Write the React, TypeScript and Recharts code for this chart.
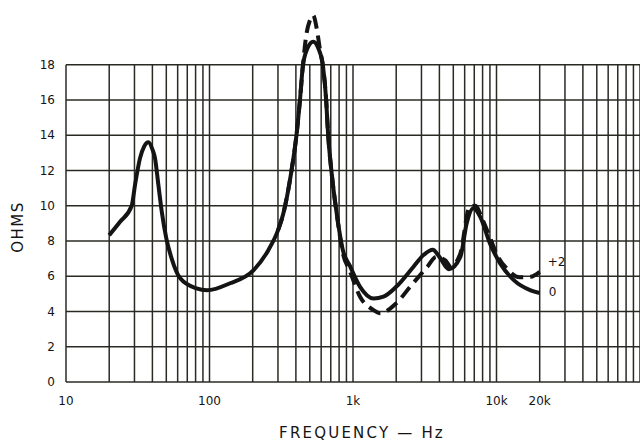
import React from "react";
import { LineChart, Line, XAxis, YAxis, ReferenceLine } from "recharts";

// Impedance curve, tone control at "0"
const solidFreq = [20, 23.8, 28.7, 30.3, 32.8, 35, 37.5, 40, 41.7, 44, 46.5, 50, 54.5, 62.5, 81, 96, 139, 203, 257, 300, 327, 370, 405, 427, 447, 480, 528, 575, 618, 650, 670, 711, 770, 850, 950, 1120, 1390, 1630, 2000, 2640, 3100, 3600, 4000, 4660, 5600, 6200, 6900, 7700, 9000, 10600, 13200, 17300, 20000];
const solidOhms = [8.33, 9.09, 10.0, 11.2, 12.7, 13.35, 13.6, 13.2, 12.7, 11.2, 9.66, 8.15, 7.0, 5.88, 5.31, 5.2, 5.6, 6.35, 7.48, 8.6, 9.56, 11.83, 14.1, 16.0, 17.9, 18.9, 19.3, 18.9, 17.9, 16.0, 14.1, 11.8, 9.56, 7.48, 6.6, 5.4, 4.74, 4.84, 5.4, 6.54, 7.2, 7.5, 7.1, 6.4, 7.1, 9.0, 9.85, 9.37, 7.86, 6.73, 5.78, 5.2, 5.05];

// Impedance curve, tone control at "+2"
const dashFreq = [300, 327, 370, 405, 427, 447, 475, 500, 528, 560, 590, 618, 650, 670, 711, 770, 850, 950, 1120, 1390, 1550, 2000, 2500, 3300, 3800, 4400, 4800, 5600, 6500, 7100, 8000, 9000, 10100, 11900, 14500, 17300, 20000];
const dashOhms = [8.6, 9.56, 11.83, 14.1, 16.0, 17.9, 19.8, 20.5, 20.8, 20.0, 18.8, 17.9, 16.0, 14.1, 11.8, 9.56, 7.3, 6.3, 4.84, 4.08, 3.9, 4.46, 5.4, 6.54, 7.1, 6.9, 6.54, 7.3, 9.95, 10.0, 9.2, 8.2, 7.2, 6.4, 5.94, 5.97, 6.25];

const xTicks = [10, 100, 1000, 10000, 20000];
const xTickLabels = ["10", "100", "1k", "10k", "20k"];
const yTicks = [0, 2, 4, 6, 8, 10, 12, 14, 16, 18];
const curveLabels = ["0", "+2"];

const decades = [10, 100, 1000, 10000];
const multipliers = [1, 2, 3, 4, 5, 6, 7, 8, 9];
const gridFreqs: number[] = [];
decades.forEach((d) => multipliers.forEach((m) => gridFreqs.push(d * m)));
gridFreqs.push(100000);

const solidData = solidFreq.map((f, i) => ({ f, ohms: solidOhms[i] }));
const dashData = dashFreq.map((f, i) => ({ f, ohms: dashOhms[i] }));

const INK = "#141414";
const GRID = "#2a2a24";
const FONT = "'DejaVu Sans', sans-serif";

const makeEndLabel = (text: string, lastIndex: number, dx: number, dy: number) => (props: any) => {
  if (props.index !== lastIndex) return <g />;
  return (
    <text x={props.x + dx} y={props.y + dy} dominantBaseline="middle" fontFamily={FONT} fontSize={12} fill={INK}>
      {text}
    </text>
  );
};

export default function App() {
  return (
    <div style={{ position: "absolute", left: 0, top: 0, width: 640, height: 441, overflow: "hidden", background: "#fff" }}>
      <LineChart width={640} height={441} margin={{ top: 3, right: 0, left: 0, bottom: 0 }}>
        <XAxis
          dataKey="f"
          type="number"
          scale="log"
          domain={[10, 100000]}
          ticks={xTicks}
          tickFormatter={(v: number) => xTickLabels[xTicks.indexOf(v)]}
          axisLine={false}
          tickLine={false}
          tickSize={0}
          tickMargin={14}
          height={59}
          tick={{ fontFamily: FONT, fontSize: 12, fill: INK }}
          allowDataOverflow
        />
        <YAxis
          type="number"
          domain={[0, 21.5]}
          ticks={yTicks}
          axisLine={false}
          tickLine={false}
          tickSize={0}
          tickMargin={11}
          width={66}
          tick={{ fontFamily: FONT, fontSize: 12, fill: INK }}
        />
        {yTicks.map((v) => (
          <ReferenceLine key={"h" + v} y={v} stroke={GRID} strokeWidth={1.5} />
        ))}
        {gridFreqs.map((f) => (
          <ReferenceLine
            key={"v" + f}
            segment={[{ x: f, y: 0 }, { x: f, y: 18 }]}
            stroke={GRID}
            strokeWidth={1.5}
          />
        ))}
        <Line
          data={solidData}
          dataKey="ohms"
          type="monotone"
          stroke={INK}
          strokeWidth={4}
          dot={false}
          activeDot={false}
          isAnimationActive={false}
          label={makeEndLabel(curveLabels[0], solidData.length - 1, 9, 0)}
        />
        <Line
          data={dashData}
          dataKey="ohms"
          type="monotone"
          stroke={INK}
          strokeWidth={4}
          strokeDasharray="13 7"
          dot={false}
          activeDot={false}
          isAnimationActive={false}
          label={makeEndLabel(curveLabels[1], dashData.length - 1, 8, -9)}
        />
      </LineChart>
      <div
        style={{
          position: "absolute",
          left: 18,
          top: 227,
          transform: "translate(-50%, -50%) rotate(-90deg)",
          fontFamily: FONT,
          fontSize: 15,
          letterSpacing: 1.5,
          color: INK,
          whiteSpace: "nowrap",
          lineHeight: 1,
        }}
      >
        OHMS
      </div>
      <div
        style={{
          position: "absolute",
          left: 362,
          top: 433,
          transform: "translate(-50%, -50%)",
          fontFamily: FONT,
          fontSize: 15,
          letterSpacing: 2.2,
          color: INK,
          whiteSpace: "nowrap",
          lineHeight: 1,
        }}
      >
        FREQUENCY — Hz
      </div>
    </div>
  );
}
